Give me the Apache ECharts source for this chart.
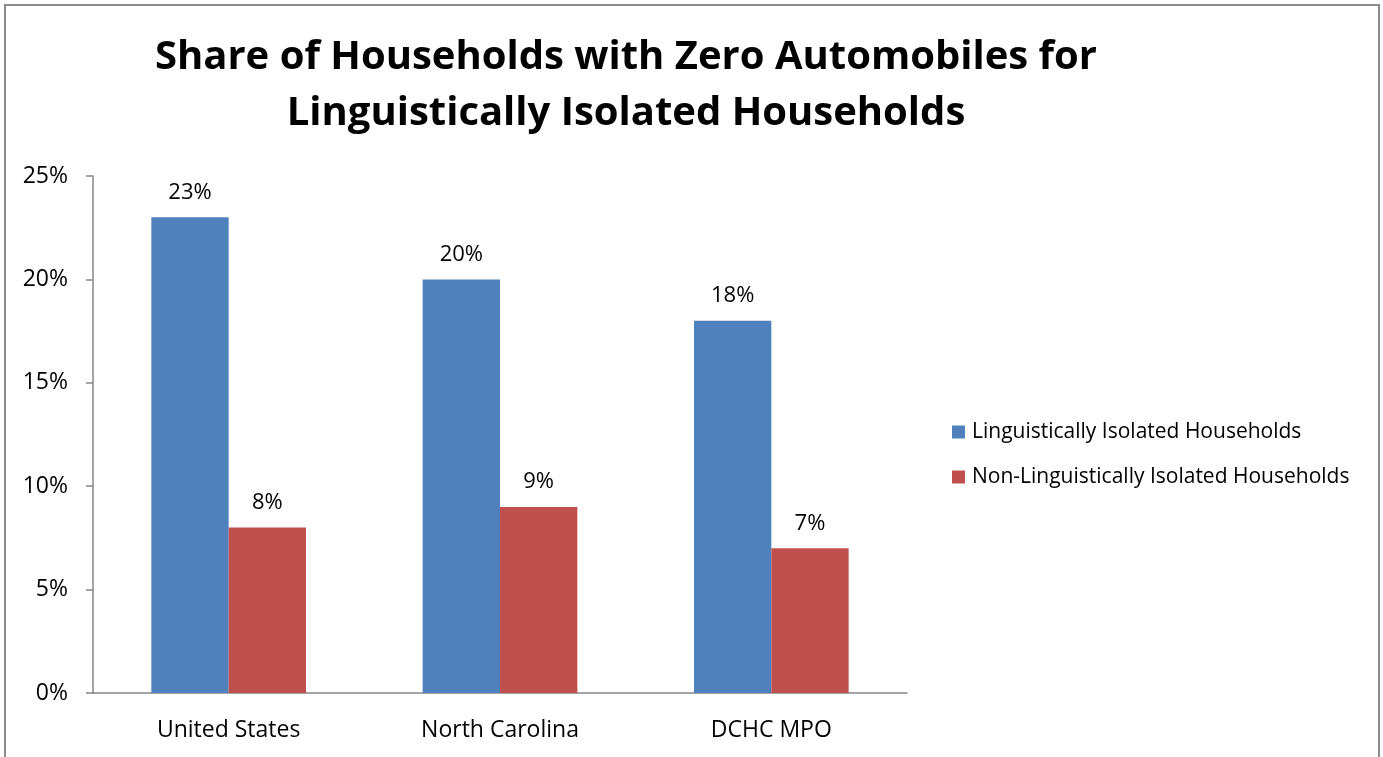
<!DOCTYPE html>
<html>
<head>
<meta charset="utf-8">
<script src="https://cdn.jsdelivr.net/npm/echarts@6/dist/echarts.min.js"></script>
<style>
html,body{margin:0;padding:0;background:#fff;}
#chart{width:1383px;height:757px;}
</style>
</head>
<body>
<div id="chart"></div>
<script>
const categories = ['United States', 'North Carolina', 'DCHC MPO'];
const seriesNames = ['Linguistically Isolated Households', 'Non-Linguistically Isolated Households'];
const linguisticallyIsolated = [23, 20, 18];
const nonLinguisticallyIsolated = [8, 9, 7];
const titleLines = ['Share of Households with Zero Automobiles for', 'Linguistically Isolated Households'];

const FONT = '"Open Sans", "Liberation Sans", sans-serif';
const chart = echarts.init(document.getElementById('chart'), null, {renderer: 'canvas'});
const labelStyle = {show: true, position: 'top', distance: 14, formatter: p => p.value + '%', color: '#000', fontFamily: FONT, fontSize: 22};
chart.setOption({
  animation: false,
  backgroundColor: '#fff',
  graphic: [{
    type: 'rect', shape: {x: 5, y: 5, width: 1374, height: 800},
    style: {fill: 'none', stroke: '#8c8c8c', lineWidth: 2}, silent: true
  }],
  title: {
    text: titleLines.join('\n'),
    left: 621, top: 25, textAlign: 'center',
    textStyle: {fontFamily: FONT, fontWeight: 'bold', fontSize: 40, lineHeight: 56, color: '#000'}
  },
  legend: {
    orient: 'vertical', left: 947, top: 416,
    itemWidth: 13, itemHeight: 13, itemGap: 23,
    icon: 'rect',
    textStyle: {fontFamily: FONT, fontSize: 21, lineHeight: 22, color: '#000', padding: [0,0,0,2]},
    data: seriesNames
  },
  grid: {left: 93, top: 176, right: 476, bottom: 64, containLabel: false},
  xAxis: {
    type: 'category', data: categories,
    axisLine: {lineStyle: {color: '#868686', width: 1.5}},
    axisTick: {show: false},
    axisLabel: {color: '#000', fontFamily: FONT, fontSize: 23, margin: 26}
  },
  yAxis: {
    type: 'value', min: 0, max: 25, interval: 5,
    axisLine: {show: true, lineStyle: {color: '#868686', width: 1.5}},
    axisTick: {show: true, length: 7, lineStyle: {color: '#868686', width: 1.5}},
    splitLine: {show: false},
    axisLabel: {color: '#000', fontFamily: FONT, fontSize: 23, margin: 25, formatter: v => v + '%'}
  },
  series: [
    {name: seriesNames[0], type: 'bar', data: linguisticallyIsolated, barGap: '0%', barCategoryGap: '43%',
     itemStyle: {color: '#4F81BD'}, label: labelStyle},
    {name: seriesNames[1], type: 'bar', data: nonLinguisticallyIsolated, barGap: '0%', barCategoryGap: '43%',
     itemStyle: {color: '#C0504D'}, label: labelStyle}
  ]
});
</script>
</body>
</html>
